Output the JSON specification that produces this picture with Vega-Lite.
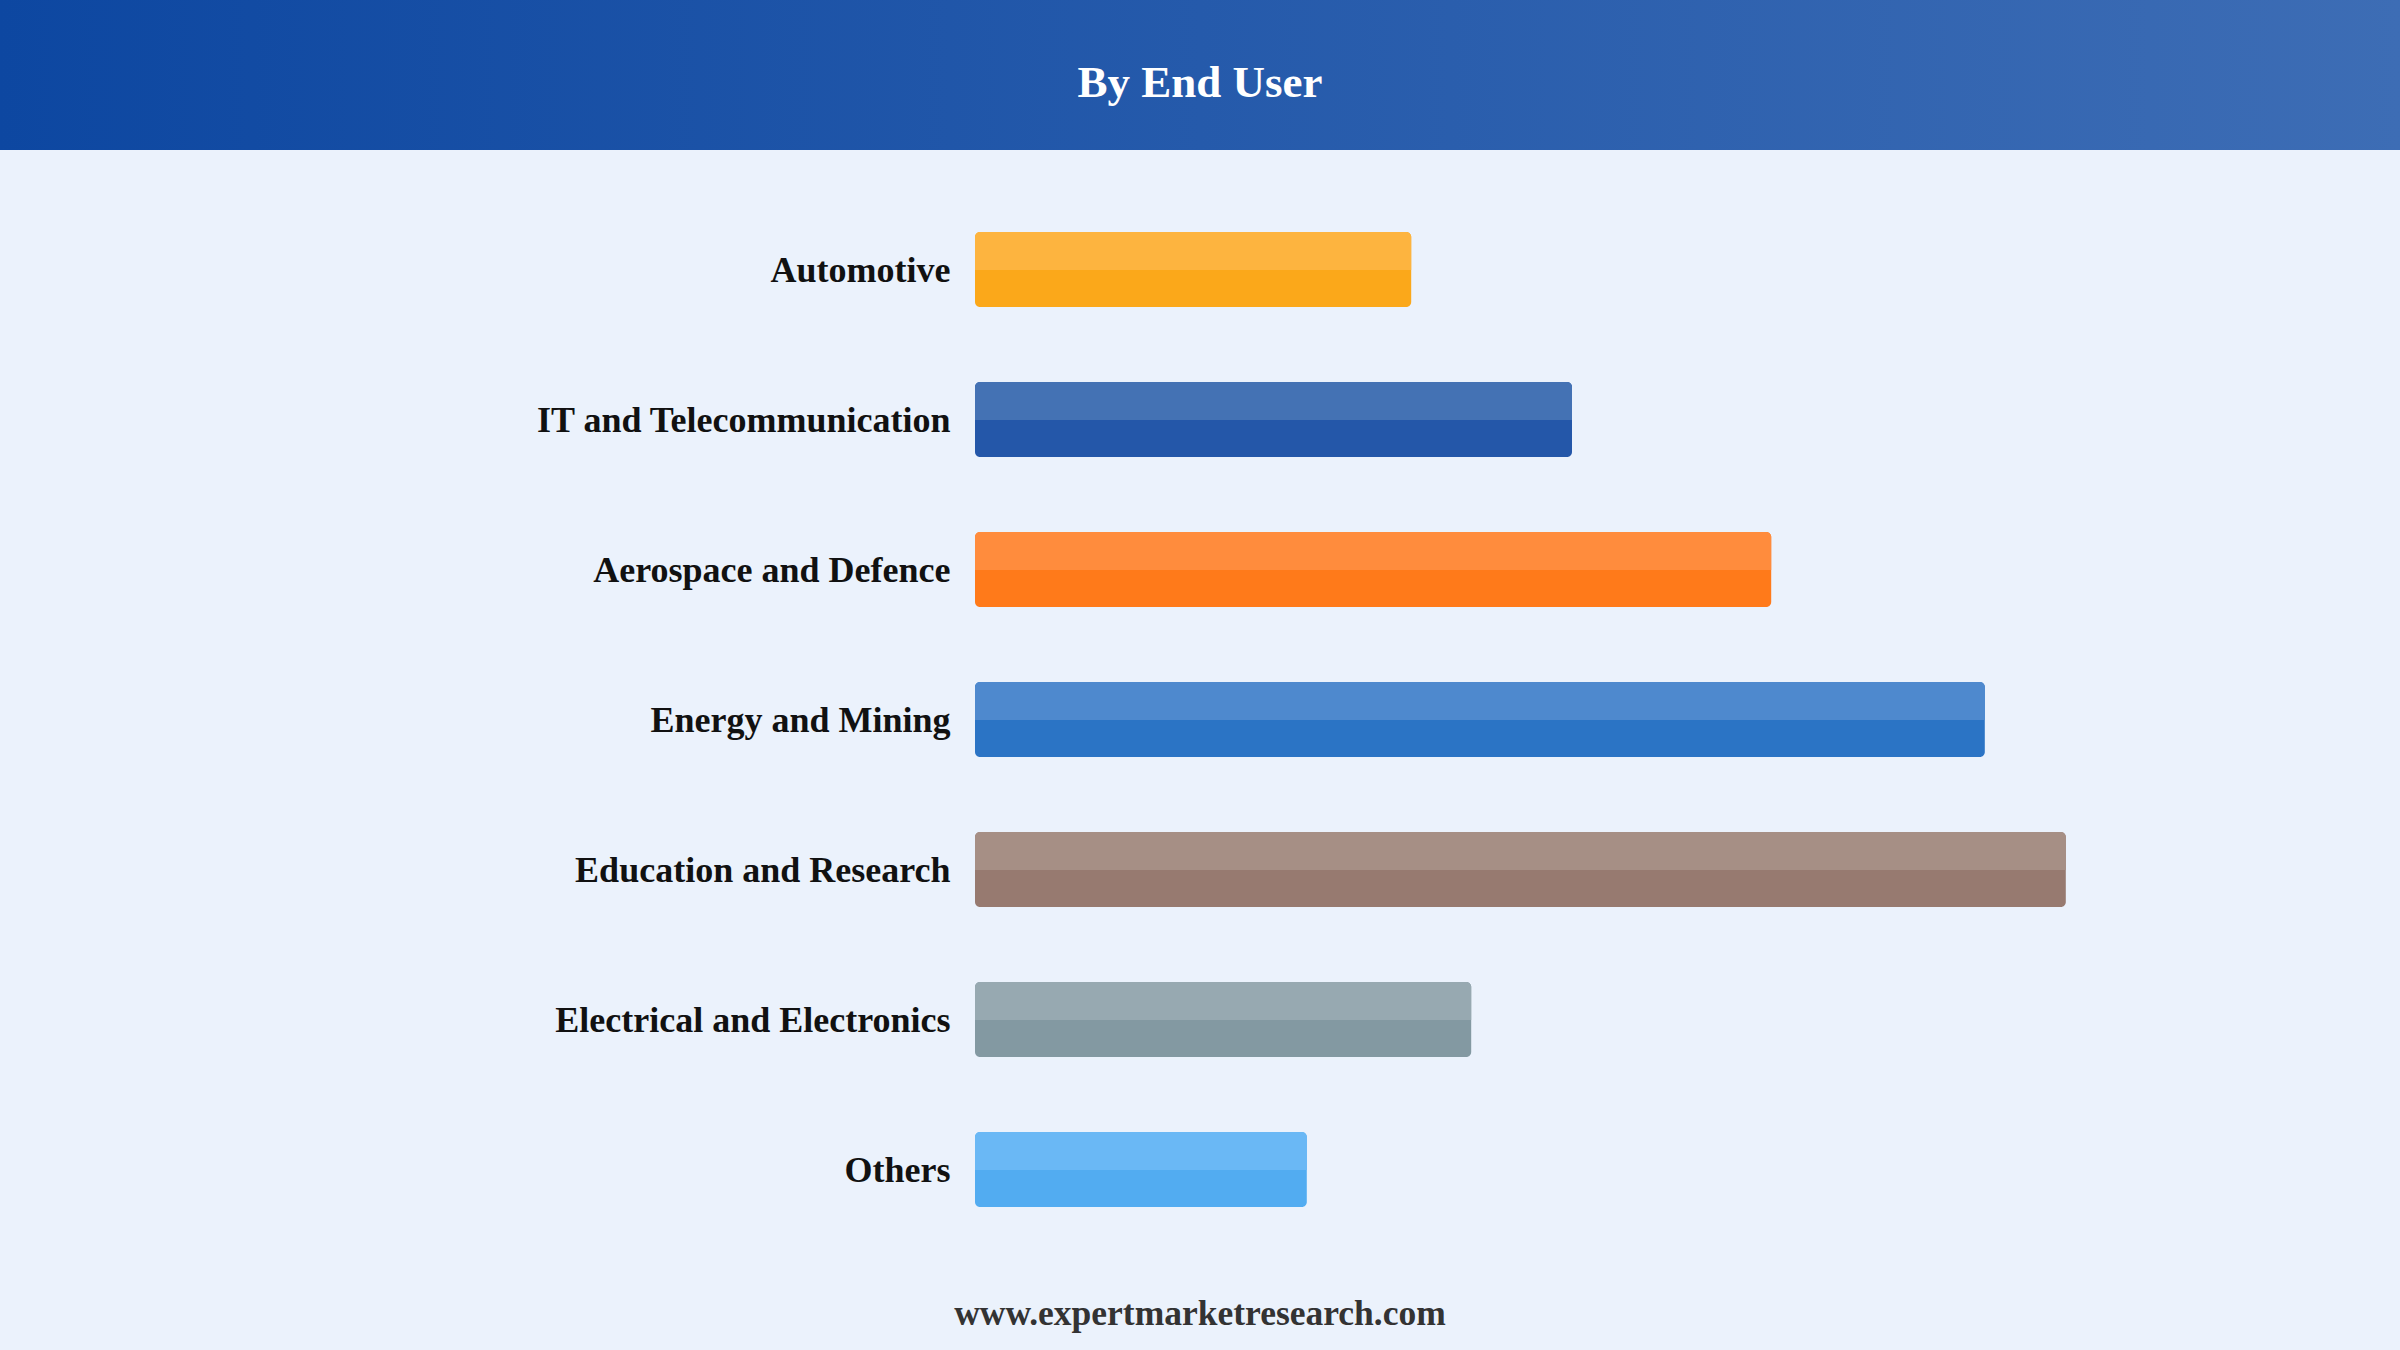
{
  "$schema": "https://vega.github.io/schema/vega-lite/v6.json",
  "background": "#EBF2FC",
  "padding": 0,
  "spacing": 0,
  "config": {"view": {"stroke": null}, "concat": {"spacing": 0}},
  "vconcat": [
    {
      "width": 2400,
      "height": 150,
      "data": {"values": [{"title": "By End User"}]},
      "layer": [
        {
          "mark": {"type": "rect", "fill": {"gradient": "linear", "x1": 0, "y1": 0, "x2": 1, "y2": 0, "stops": [{"offset": 0, "color": "#0D47A1"}, {"offset": 1, "color": "#3D6DB5"}]}},
          "encoding": {}
        },
        {
          "mark": {"type": "text", "font": "Liberation Serif", "fontWeight": "bold", "fontSize": 45, "color": "#FFFFFF", "align": "center", "baseline": "alphabetic", "dy": 22},
          "encoding": {"text": {"field": "title"}}
        }
      ]
    },
    {
      "width": 2400,
      "height": 1110,
      "data": {"values": [
        {"category": "Automotive", "value": 7.27},
        {"category": "IT and Telecommunication", "value": 9.95},
        {"category": "Aerospace and Defence", "value": 13.27},
        {"category": "Energy and Mining", "value": 16.83},
        {"category": "Education and Research", "value": 18.18},
        {"category": "Electrical and Electronics", "value": 8.27},
        {"category": "Others", "value": 5.53}
      ]},
      "encoding": {
        "y": {"field": "category", "type": "nominal", "sort": null,
          "scale": {"paddingInner": 0, "paddingOuter": 0.2, "align": 0.74},
          "axis": {"title": null, "orient": "left", "offset": -975, "domain": false, "ticks": false, "labelPadding": 25, "labelOffset": 2, "labelFont": "Liberation Serif", "labelFontWeight": "bold", "labelFontSize": 36, "labelColor": "#111111", "labelLimit": 1200, "labelBaseline": "middle", "grid": false}},
        "x": {"field": "value", "type": "quantitative", "scale": {"domain": [-16.25, 23.75], "zero": false, "nice": false}, "axis": null},
        "x2": {"datum": 0}
      },
      "layer": [
        {
          "mark": {"type": "bar", "size": 75, "cornerRadius": 5},
          "encoding": {
            "color": {"field": "category", "type": "nominal", "legend": null,
              "scale": {"domain": ["Automotive", "IT and Telecommunication", "Aerospace and Defence", "Energy and Mining", "Education and Research", "Electrical and Electronics", "Others"],
                "range": ["#FBA81A", "#2457A9", "#FF7A1A", "#2B74C5", "#977A70", "#8399A2", "#52ACF1"]}}
          }
        },
        {
          "mark": {"type": "bar", "size": 38, "yOffset": -18.5, "cornerRadiusTopLeft": 5, "cornerRadiusTopRight": 5},
          "encoding": {
            "color": {"field": "category", "type": "nominal", "legend": null,
              "scale": {"domain": ["Automotive", "IT and Telecommunication", "Aerospace and Defence", "Energy and Mining", "Education and Research", "Electrical and Electronics", "Others"],
                "range": ["#FDB43F", "#4472B4", "#FF8C3D", "#4E89CE", "#A68F85", "#97A9B1", "#6AB8F5"]}}
          }
        }
      ],
      "resolve": {"scale": {"color": "independent"}}
    },
    {
      "width": 2400,
      "height": 90,
      "data": {"values": [{"site": "www.expertmarketresearch.com"}]},
      "mark": {"type": "text", "font": "Liberation Serif", "fontWeight": "bold", "fontSize": 35.5, "color": "#333333", "align": "center", "baseline": "alphabetic", "dy": 20},
      "encoding": {"text": {"field": "site"}}
    }
  ]
}
